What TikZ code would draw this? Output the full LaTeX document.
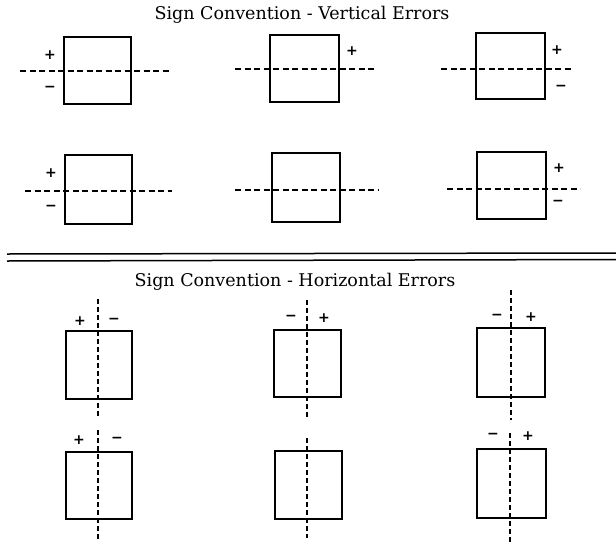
\documentclass[tikz,border=0pt]{standalone}
\usepackage{fontspec}
\setmainfont{DejaVu Serif}
\newfontfamily\sgnfont{DejaVu Sans}
\begin{document}
\begin{tikzpicture}[x=1pt,y=-1pt,
  sq/.style n args={2}{draw, line width=1.6pt, inner sep=0pt, minimum width=#1pt, minimum height=#2pt},
  hdash/.style={line width=1.8pt, dash pattern=on 6pt off 3.5pt},
  vdash/.style={line width=1.8pt, dash pattern=on 4.5pt off 3.5pt},
  rule/.style={line width=1.5pt},
  sgn/.style={font=\sgnfont\bfseries\fontsize{14}{14}\selectfont, inner sep=0pt},
  ttl/.style={font=\fontsize{17.5}{19}\selectfont, anchor=base, inner sep=0pt}]
\useasboundingbox (0,0) rectangle (616,544);
% titles
\node[ttl] (t1) at (302,19) {Sign Convention - Vertical Errors};
\node[ttl] (t2) at (295,286.5) {Sign Convention - Horizontal Errors};
% double rule
\coordinate (r1a) at (7,254); \coordinate (r1b) at (616,253);
\coordinate (r2a) at (7,261); \coordinate (r2b) at (616,259.5);
\draw[rule] (r1a) -- (r1b);
\draw[rule] (r2a) -- (r2b);
% squares
\node[sq={67}{67}] (A) at (97.5,70.5) {};
\node[sq={69}{67}] (B) at (304.5,68.5) {};
\node[sq={69}{66}] (C) at (510.5,66) {};
\node[sq={67}{69}] (D) at (98.5,189.5) {};
\node[sq={68}{69}] (E) at (306,187.5) {};
\node[sq={69}{67}] (F) at (511.5,185.5) {};
\node[sq={66}{68}] (G) at (99,365) {};
\node[sq={67}{67}] (H) at (307.5,363.5) {};
\node[sq={68}{69}] (I) at (511,362.5) {};
\node[sq={66}{67}] (J) at (99,485.5) {};
\node[sq={67}{68}] (K) at (308.5,485) {};
\node[sq={69}{69}] (L) at (511.5,483.5) {};
% horizontal reference lines
\coordinate (a1) at (20,71);  \coordinate (a2) at (172,71);
\coordinate (b1) at (235,69); \coordinate (b2) at (376,69);
\coordinate (c1) at (441,69); \coordinate (c2) at (573,69);
\coordinate (d1) at (25,191); \coordinate (d2) at (172,191);
\coordinate (e1) at (235,190); \coordinate (e2) at (378,190);
\coordinate (f1) at (447,189); \coordinate (f2) at (580,189);
\draw[hdash] (a1) -- (a2);
\draw[hdash] (b1) -- (b2);
\draw[hdash] (c1) -- (c2);
\draw[hdash] (d1) -- (d2);
\draw[hdash] (e1) -- (e2);
\draw[hdash] (f1) -- (f2);
% vertical reference lines
\coordinate (g1) at (98,299); \coordinate (g2) at (98,418);
\coordinate (h1) at (307,300); \coordinate (h2) at (307,418);
\coordinate (i1) at (511,290); \coordinate (i2) at (511,420);
\coordinate (j1) at (98,430); \coordinate (j2) at (98,542);
\coordinate (k1) at (307,438); \coordinate (k2) at (307,538);
\coordinate (l1) at (510,433); \coordinate (l2) at (510,543);
\draw[vdash] (g1) -- (g2);
\draw[vdash] (h1) -- (h2);
\draw[vdash] (i1) -- (i2);
\draw[vdash] (j1) -- (j2);
\draw[vdash] (k1) -- (k2);
\draw[vdash] (l1) -- (l2);
% signs
\node[sgn] (ap) at (50,55) {+};   \node[sgn] (am) at (50,89) {−};
\node[sgn] (bp) at (352,51) {+};
\node[sgn] (cp) at (557,50) {+};  \node[sgn] (cm) at (561,88) {−};
\node[sgn] (dp) at (51,173) {+};  \node[sgn] (dm) at (51,208) {−};
\node[sgn] (fp) at (559,168) {+}; \node[sgn] (fm) at (558,203) {−};
\node[sgn] (gp) at (80,321) {+};  \node[sgn] (gm) at (114,321) {−};
\node[sgn] (hm) at (291,318) {−}; \node[sgn] (hp) at (324,318) {+};
\node[sgn] (im) at (497,317) {−}; \node[sgn] (ip) at (531,317) {+};
\node[sgn] (jp) at (79,440) {+};  \node[sgn] (jm) at (117,440) {−};
\node[sgn] (lm) at (493,436) {−}; \node[sgn] (lp) at (528,436) {+};
\end{tikzpicture}
\end{document}
